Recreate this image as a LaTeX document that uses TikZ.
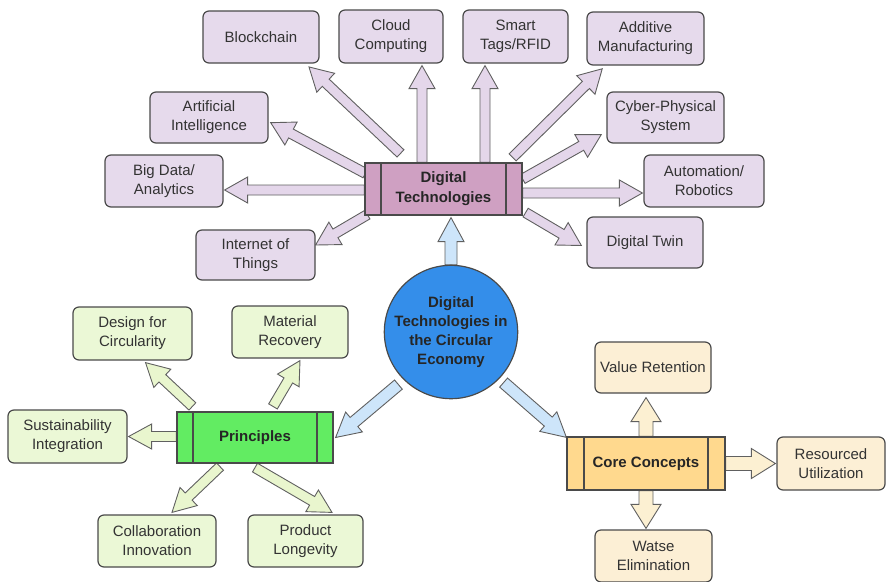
\documentclass[tikz,border=0pt]{standalone}
\usepackage{fontspec}
\setmainfont{Liberation Sans}
\usetikzlibrary{calc,backgrounds}

\definecolor{boxline}{HTML}{4A4A4A}
\definecolor{arrowline}{HTML}{606060}
\definecolor{boxtext}{HTML}{333333}
\definecolor{techmain}{HTML}{CFA0C2}
\definecolor{techfill}{HTML}{E6DAEC}
\definecolor{techtip}{HTML}{E4D6EA}
\definecolor{hubfill}{HTML}{348EEA}
\definecolor{hubtip}{HTML}{CDE5FA}
\definecolor{princmain}{HTML}{62EC62}
\definecolor{princfill}{HTML}{EBF8D6}
\definecolor{princtip}{HTML}{E9F6CE}
\definecolor{coremain}{HTML}{FFD98E}
\definecolor{corefill}{HTML}{FCEFD5}
\definecolor{coretip}{HTML}{FCF0D2}

\tikzset{
	box/.style={draw=boxline, line width=1.2pt, rounded corners=6pt, align=center, text=boxtext,
		font=\fontsize{15}{19}\selectfont, inner sep=2pt, minimum width=117pt, minimum height=52pt},
	techbox/.style={box, fill=techfill},
	princbox/.style={box, fill=princfill},
	corebox/.style={box, fill=corefill},
	process/.style={draw=boxline, line width=1.2pt, align=center, text=black!85,
		font=\bfseries\fontsize{15}{20}\selectfont, minimum width=157pt, minimum height=52pt,
		path picture={\draw[boxline, line width=1.2pt]
			([xshift=#1]path picture bounding box.north west) -- ([xshift=#1]path picture bounding box.south west)
			([xshift=-#1]path picture bounding box.north east) -- ([xshift=-#1]path picture bounding box.south east);}},
	process/.default=16pt,
	hub/.style={circle, draw=boxline, line width=1.2pt, fill=hubfill, minimum size=130pt, inner sep=0pt,
		align=center, text=black!85, font=\bfseries\fontsize{15}{19}\selectfont},
	arrow size/.code args={#1/#2/#3}{\def\shafthw{#1}\def\headhw{#2}\def\headlen{#3}},
	fatarrow/.style={draw=arrowline, line width=0.9pt, line join=miter},
	techarrow/.style={fatarrow, fill=techtip, arrow size=5/13/23},
	hubarrow/.style={fatarrow, fill=hubtip, arrow size=6/13/24},
	princarrow/.style={fatarrow, fill=princtip, arrow size=5/12.5/23},
	corearrow/.style={fatarrow, fill=coretip, arrow size=7/15/24},
}

% block arrow from #2 to #3, drawn with style #1
\newcommand\blockarrow[3]{%
	\path[#1] let \p1=(#2), \p2=(#3), \n1={atan2(\y2-\y1,\x2-\x1)}, \n2={veclen(\x2-\x1,\y2-\y1)} in
		[shift={(\p1)}, rotate=\n1]
		(0,-\shafthw) -- ({\n2-\headlen},-\shafthw) -- ({\n2-\headlen},-\headhw) -- (\n2,0)
		-- ({\n2-\headlen},\headhw) -- ({\n2-\headlen},\shafthw) -- (0,\shafthw) -- cycle;
}

\begin{document}
\begin{tikzpicture}[x=1pt, y=-1pt]
\useasboundingbox (0,0) rectangle (886,581);

\node[hub] (hub) at (451,332) {Digital\\Technologies in\\the Circular\\Economy};
\node[process, fill=techmain] (tech) at (443.5,189) {Digital\\Technologies};
\node[process, fill=princmain, minimum width=156pt, minimum height=51pt] (princ) at (255,437.5) {Principles};
\node[process=17pt, fill=coremain, minimum width=158pt, minimum height=53pt] (core) at (646,463.5) {Core Concepts};

% technologies
\node[techbox, minimum width=116pt] (chain) at (261,37) {Blockchain};
\node[techbox, minimum width=104pt, minimum height=53pt] (cloud) at (391,36.5) {Cloud\\Computing};
\node[techbox, minimum width=105pt, minimum height=53pt] (rfid) at (515.5,36.5) {Smart\\Tags/RFID};
\node[techbox, minimum height=53pt] (additive) at (645.5,38.5) {Additive\\Manufacturing};
\node[techbox, minimum width=118pt, minimum height=51pt] (ai) at (209,117.5) {Artificial\\Intelligence};
\node[techbox, minimum height=51pt] (cps) at (665.5,117.5) {Cyber-Physical\\System};
\node[techbox, minimum width=118pt] (bigdata) at (164,181) {Big Data/\\Analytics};
\node[techbox, minimum width=120pt] (robotics) at (704,181) {Automation/\\Robotics};
\node[techbox, minimum width=119pt, minimum height=50pt] (iot) at (255.5,255) {Internet of\\Things};
\node[techbox, minimum width=116pt, minimum height=51pt] (twin) at (645,242.5) {Digital Twin};

% principles
\node[princbox, minimum width=119pt, minimum height=53pt] (design) at (132.5,333.5) {Design for\\Circularity};
\node[princbox, minimum width=116pt] (recovery) at (290,332) {Material\\Recovery};
\node[princbox, minimum width=119pt, minimum height=53pt] (sustain) at (67.5,436.5) {Sustainability\\Integration};
\node[princbox, minimum width=118pt] (collab) at (157,541) {Collaboration\\Innovation};
\node[princbox, minimum width=115pt] (longevity) at (305.5,541) {Product\\Longevity};

% core concepts
\node[corebox, minimum width=116pt, minimum height=51pt] (retention) at (653,367.5) {Value Retention};
\node[corebox, minimum width=108pt, minimum height=53pt] (resource) at (831,463.5) {Resourced\\Utilization};
\node[corebox] (waste) at (653.5,556) {Watse\\Elimination};

\begin{pgfonlayer}{background}
\blockarrow{hubarrow}{hub.north}{[shift={(7.5,2)}]tech.south}
\blockarrow{hubarrow}{[shift={(-5,5)}]hub.225}{[shift={(2,0)}]princ.east}
\blockarrow{hubarrow}{[shift={(5,3)}]hub.315}{[shift={(0,1)}]core.north west}

\blockarrow{techarrow}{[shift={(-43,-9)}]tech.north}{[shift={(-11,3)}]chain.south east}
\blockarrow{techarrow}{[shift={(-21.5,0)}]tech.north}{[shift={(31,2)}]cloud.south}
\blockarrow{techarrow}{[shift={(41.5,0)}]tech.north}{[shift={(-30.5,2)}]rfid.south}
\blockarrow{techarrow}{[shift={(-10,-5)}]tech.north east}{[shift={(16,3)}]additive.south west}
\blockarrow{techarrow}{[shift={(1,11)}]tech.north west}{[shift={(2,-21)}]ai.south east}
\blockarrow{techarrow}{[shift={(0,1)}]tech.west}{[shift={(1,9)}]bigdata.east}
\blockarrow{techarrow}{[shift={(3,-1)}]tech.south west}{[shift={(0,-10)}]iot.east}
\blockarrow{techarrow}{[shift={(0,-10)}]tech.east}{[shift={(-5,17)}]cps.west}
\blockarrow{techarrow}{[shift={(0,4)}]tech.east}{[shift={(-1,12)}]robotics.west}
\blockarrow{techarrow}{[shift={(3,-3)}]tech.south east}{[shift={(-5,3)}]twin.west}

\blockarrow{princarrow}{[shift={(16,-5)}]princ.north west}{[shift={(13,2)}]design.south}
\blockarrow{princarrow}{[shift={(18,-5)}]princ.north}{[shift={(10,2)}]recovery.south}
\blockarrow{princarrow}{[shift={(0,-1)}]princ.west}{[shift={(1,0)}]sustain.east}
\blockarrow{princarrow}{[shift={(-35,3)}]princ.south}{[shift={(15,-2)}]collab.north}
\blockarrow{princarrow}{[shift={(0,4)}]princ.south}{[shift={(26.5,-2)}]longevity.north}

\blockarrow{corearrow}{core.north}{[shift={(-7,4)}]retention.south}
\blockarrow{corearrow}{core.east}{[shift={(-1,0)}]resource.west}
\blockarrow{corearrow}{core.south}{[shift={(-7.5,-1)}]waste.north}
\end{pgfonlayer}
\end{tikzpicture}
\end{document}
